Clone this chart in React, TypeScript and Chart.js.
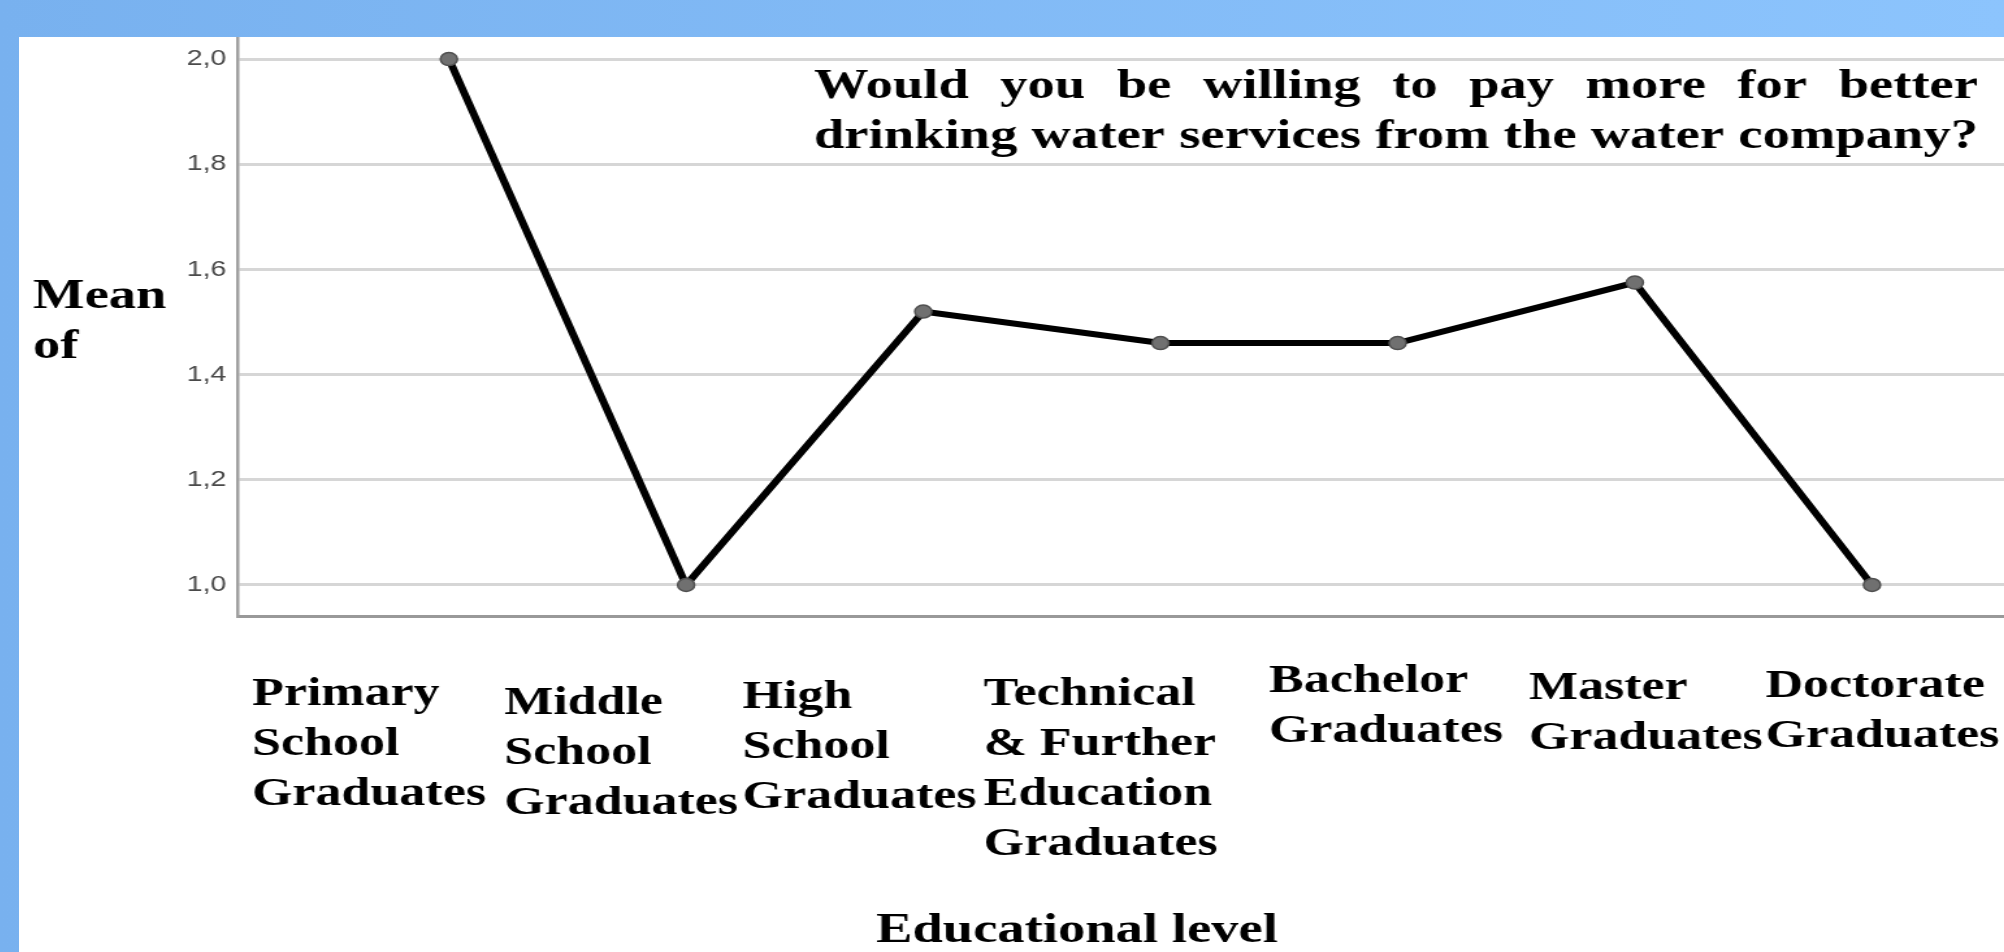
import React, { useEffect, useRef } from "react";
import { Chart, registerables } from "chart.js";

Chart.register(...registerables);

// ---------- data ----------
const categoryLabels: string[][] = [
  ["Primary", "School", "Graduates"],
  ["Middle", "School", "Graduates"],
  ["High", "School", "Graduates"],
  ["Technical", "& Further", "Education", "Graduates"],
  ["Bachelor", "Graduates"],
  ["Master", "Graduates"],
  ["Doctorate", "Graduates"],
];
const meanValues: number[] = [2.0, 1.0, 1.52, 1.46, 1.46, 1.575, 1.0];
const yTickValues: number[] = [1.0, 1.2, 1.4, 1.6, 1.8, 2.0];
const chartTitleLines: string[] = [
  "Would you be willing to pay more for better",
  "drinking water services from the water company?",
];
const yAxisTitleLines: string[] = ["Mean", "of"];
const xAxisTitle = "Educational level";

// ---------- layout / style ----------
const STRETCH = 1.3; // the reference image is stretched horizontally
const PANEL_W = 1985;
const PANEL_H = 915;
const W_INT = Math.round(PANEL_W / STRETCH);
const SERIF = '"Liberation Serif", "Times New Roman", serif';
const SANS = '"Liberation Sans", Arial, sans-serif';
const labelDx = [-151.5, -140, -139, -136, -99, -81.5, -82];
const labelDy = [89, 98, 92, 89, 76, 83, 81];
const LINE_H = 50;

function drawJustified(ctx: CanvasRenderingContext2D, text: string, x: number, y: number, width: number) {
  const words = text.split(" ");
  const widths = words.map((w) => ctx.measureText(w).width);
  const total = widths.reduce((a, b) => a + b, 0);
  const gap = words.length > 1 ? (width - total) / (words.length - 1) : 0;
  let cx = x;
  words.forEach((w, i) => {
    ctx.fillText(w, cx, y);
    cx += widths[i] + gap;
  });
}

const textPlugin = {
  id: "customText",
  afterDraw(chart: any) {
    const ctx: CanvasRenderingContext2D = chart.ctx;
    const xs = chart.scales.x;
    const area = chart.chartArea;
    ctx.save();
    ctx.fillStyle = "#000";
    ctx.textBaseline = "alphabetic";
    ctx.textAlign = "left";
    ctx.font = `bold 40px ${SERIF}`;
    categoryLabels.forEach((lines, i) => {
      const x = xs.getPixelForValue(i) + labelDx[i];
      lines.forEach((ln, j) => ctx.fillText(ln, x, area.bottom + labelDy[i] + j * LINE_H));
    });
    ctx.font = `bold 42px ${SERIF}`;
    yAxisTitleLines.forEach((ln, j) => ctx.fillText(ln, 10.8, 271 + j * LINE_H));
    chartTitleLines.forEach((ln, j) => drawJustified(ctx, ln, 611.5, 61 + j * LINE_H, 895.4));
    ctx.textAlign = "center";
    ctx.fillText(xAxisTitle, 813.8, 905);
    ctx.restore();
  },
};

export default function App() {
  const canvasRef = useRef<HTMLCanvasElement | null>(null);

  useEffect(() => {
    if (!canvasRef.current) return;
    const chart = new Chart(canvasRef.current, {
      type: "line",
      data: {
        datasets: [
          {
            data: meanValues.map((v, i) => ({ x: i, y: v })),
            borderColor: "#000",
            borderWidth: 6,
            pointRadius: 6.5,
            pointBackgroundColor: "#707070",
            pointBorderColor: "#505050",
            pointBorderWidth: 1.5,
            tension: 0,
            fill: false,
            clip: false,
          },
        ],
      },
      options: {
        responsive: false,
        animation: false,
        devicePixelRatio: 1,
        layout: { padding: 0, autoPadding: false },
        plugins: { legend: { display: false }, tooltip: { enabled: false }, title: { display: false } },
        scales: {
          x: {
            type: "linear",
            min: -0.889,
            max: 6.557,
            grid: { display: false },
            border: { display: true, color: "#999", width: 3 },
            ticks: { display: false },
            afterFit: (s: any) => {
              s.height = 336;
              s.paddingLeft = 0;
              s.paddingRight = 0;
            },
          },
          y: {
            min: 0.941,
            max: 2.042,
            afterBuildTicks: (s: any) => {
              s.ticks = yTickValues.map((v) => ({ value: v }));
            },
            ticks: {
              callback: (v: any) => Number(v).toFixed(1).replace(".", ","),
              font: { family: SANS, size: 22 },
              color: "#4a4a4a",
              padding: 9,
            },
            grid: { color: "#d6d6d6", lineWidth: 3, drawTicks: false },
            border: { display: true, color: "#a0a0a0", width: 2.5 },
            afterFit: (s: any) => {
              s.width = 168.5;
              s.paddingTop = 0;
              s.paddingBottom = 0;
            },
          },
        },
      },
      plugins: [textPlugin],
    } as any);
    return () => chart.destroy();
  }, []);

  return (
    <div
      style={{
        position: "fixed",
        left: 0,
        top: 0,
        width: 2004,
        height: 952,
        overflow: "hidden",
        background: "linear-gradient(90deg, #78b1ef 0%, #8cc4fd 100%)",
      }}
    >
      <div
        style={{
          position: "absolute",
          left: 19,
          top: 37,
          width: PANEL_W,
          height: PANEL_H,
          background: "#fff",
          overflow: "hidden",
        }}
      >
        <div style={{ width: W_INT, height: PANEL_H, transform: `scaleX(${STRETCH})`, transformOrigin: "0 0" }}>
          <canvas ref={canvasRef} width={W_INT} height={PANEL_H} style={{ display: "block" }} />
        </div>
      </div>
    </div>
  );
}
